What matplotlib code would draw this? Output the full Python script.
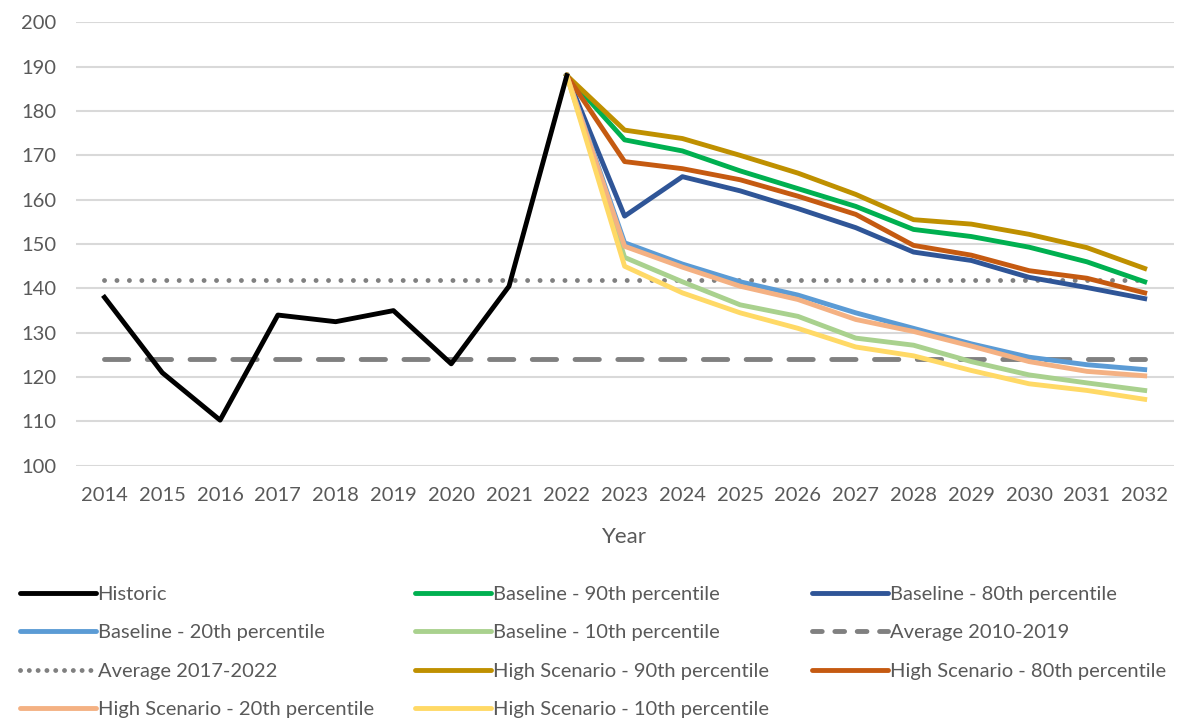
import matplotlib.pyplot as plt
from matplotlib.lines import Line2D

# Data
years = list(range(2014, 2033))
hist_years = list(range(2014, 2023))
proj_years = list(range(2022, 2033))

historic = [138, 121, 110.3, 134, 132.5, 135, 123, 140.5, 188]
base_90 = [188, 173.5, 171, 166.5, 162.5, 158.5, 153.3, 151.7, 149.3, 146, 141.5]
base_80 = [188, 156.3, 165.2, 162, 158, 153.7, 148.2, 146.3, 142.5, 140.2, 137.7]
base_20 = [188, 150.3, 145.5, 141.5, 138.5, 134.5, 131, 127.5, 124.5, 122.8, 121.7]
base_10 = [188, 147, 141.5, 136.3, 133.7, 128.8, 127.2, 123.5, 120.5, 118.7, 117]
high_90 = [188, 175.7, 173.8, 170, 166, 161.2, 155.5, 154.5, 152.2, 149.2, 144.5]
high_80 = [188, 168.6, 167, 164.5, 160.8, 156.7, 149.7, 147.5, 144, 142.3, 139]
high_20 = [188, 149.5, 144.8, 140.5, 137.5, 133, 130.3, 127, 123.5, 121.3, 120.3]
high_10 = [188, 145, 139, 134.5, 131, 126.8, 124.8, 121.5, 118.5, 117, 115]
avg_2010_2019 = 124.1
avg_2017_2022 = 142

plt.rcParams['font.family'] = ['Lato', 'DejaVu Sans']
txt = '#595959'

fig = plt.figure(figsize=(12, 7.2), dpi=100)
ax = fig.add_axes([0.063, 0.353, 0.915, 0.616])

lw = 3.5
ax.plot(years, [avg_2010_2019] * len(years), color='#808080', lw=lw,
        linestyle=(0, (5.0, 3.8)), dash_capstyle='round', zorder=2)
ax.plot(years, [avg_2017_2022] * len(years), color='#808080', lw=lw,
        linestyle=(0, (0.01, 2.55)), dash_capstyle='round', zorder=2)

series = [
    (base_90, '#00b050'), (base_80, '#2f5597'), (base_20, '#5b9bd5'),
    (base_10, '#a9d18e'), (high_90, '#bf9000'), (high_80, '#c55a11'),
    (high_20, '#f4b183'), (high_10, '#ffd966'),
]
# draw in legend order (later on top)
for vals, col in series:
    ax.plot(proj_years, vals, color=col, lw=lw, solid_joinstyle='round', zorder=3)
ax.plot(hist_years, historic, color='black', lw=lw, solid_joinstyle='round', zorder=4)

ax.set_xlim(2013.5, 2032.5)
ax.set_ylim(100, 200)
ax.set_xticks(years)
ax.set_yticks(range(100, 201, 10))
ax.tick_params(length=0, labelsize=14.5, labelcolor=txt)
ax.tick_params(axis='x', pad=15)
ax.tick_params(axis='y', pad=14)
ax.grid(axis='y', color='#d9d9d9', lw=1.5)
ax.set_axisbelow(True)
for s in ax.spines.values():
    s.set_visible(False)
ax.set_xlabel('Year', fontsize=16, color=txt, labelpad=17)

# legend, three columns, row-major order like Excel
def h(col, ls='-'):
    if ls == 'dash':
        return Line2D([], [], color=col, lw=lw, linestyle=(0, (2.0, 2.6)), dash_capstyle='round')
    if ls == 'dot':
        return Line2D([], [], color=col, lw=lw, linestyle=(0, (0.01, 1.8)), dash_capstyle='round')
    return Line2D([], [], color=col, lw=lw, solid_capstyle='round')

cols = [
    [(h('black'), 'Historic'), (h('#5b9bd5'), 'Baseline - 20th percentile'),
     (h('#808080', 'dot'), 'Average 2017-2022'), (h('#f4b183'), 'High Scenario - 20th percentile')],
    [(h('#00b050'), 'Baseline - 90th percentile'), (h('#a9d18e'), 'Baseline - 10th percentile'),
     (h('#bf9000'), 'High Scenario - 90th percentile'), (h('#ffd966'), 'High Scenario - 10th percentile')],
    [(h('#2f5597'), 'Baseline - 80th percentile'), (h('#808080', 'dash'), 'Average 2010-2019'),
     (h('#c55a11'), 'High Scenario - 80th percentile')],
]
xs = [0.0167, 0.346, 0.677]
for x0, items in zip(xs, cols):
    leg = fig.legend([i[0] for i in items], [i[1] for i in items], loc='upper left',
                     bbox_to_anchor=(x0, 0.186), frameon=False, fontsize=14.5,
                     handlelength=3.75, handletextpad=0.1, labelspacing=1.05,
                     borderaxespad=0, borderpad=0)
    for t in leg.get_texts():
        t.set_color(txt)

fig.savefig('out.png', dpi=100)
